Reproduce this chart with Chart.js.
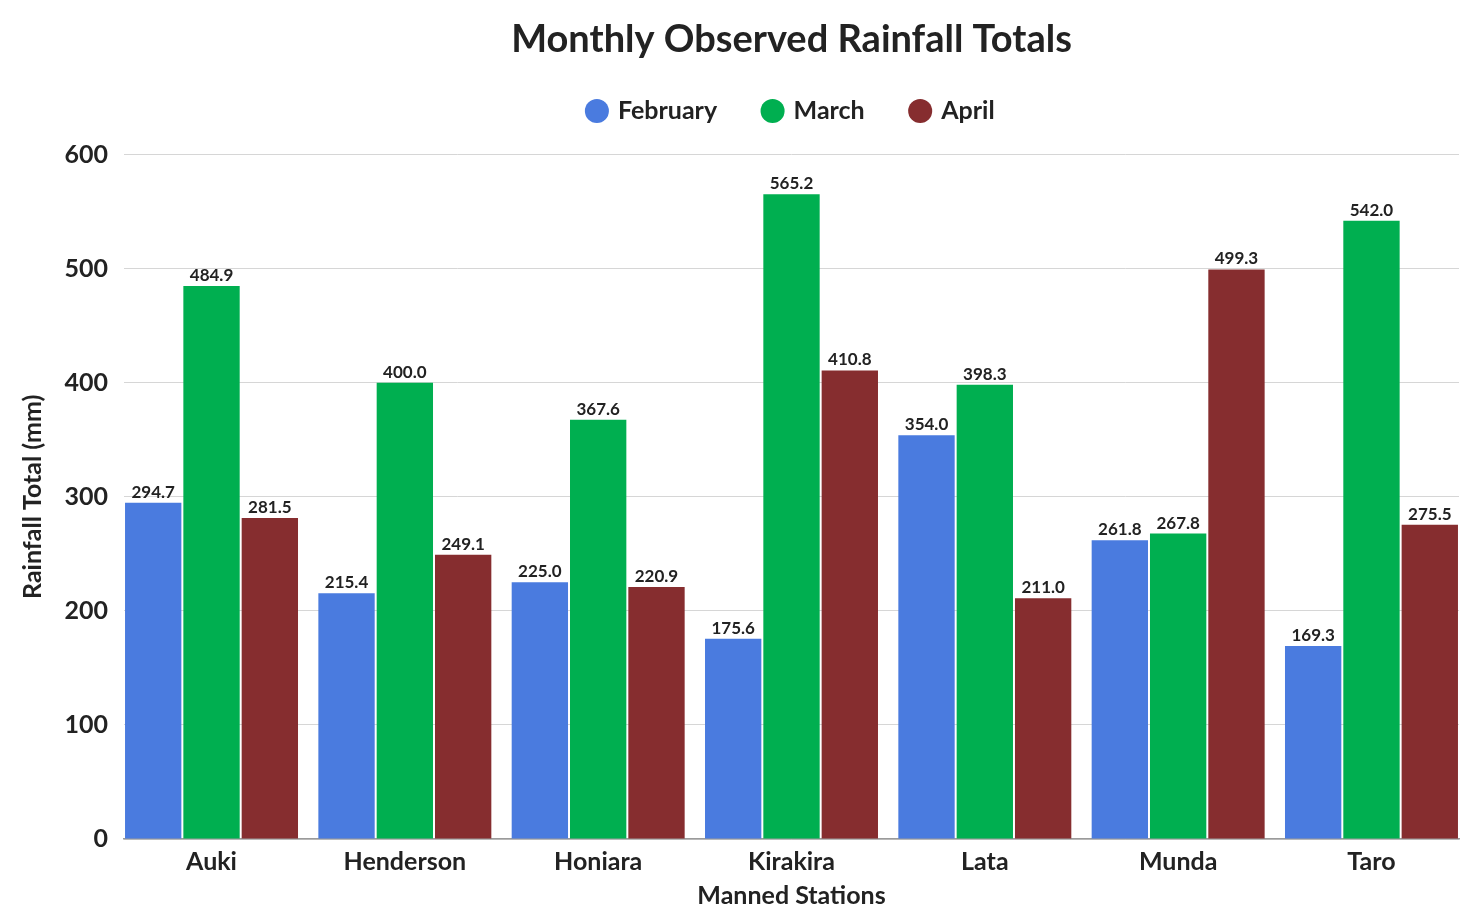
<!DOCTYPE html>
<html>
<head>
<meta charset="utf-8">
<script src="https://cdn.jsdelivr.net/npm/chart.js@4"></script>
<style>
  html, body { margin: 0; padding: 0; background: #ffffff; }
  #wrap { width: 1478px; height: 907px; }
</style>
</head>
<body>
<div id="wrap"><canvas id="c" width="1478" height="907"></canvas></div>
<script>
const categories = ["Auki", "Henderson", "Honiara", "Kirakira", "Lata", "Munda", "Taro"];
const february = [294.7, 215.4, 225.0, 175.6, 354.0, 261.8, 169.3];
const march = [484.9, 400.0, 367.6, 565.2, 398.3, 267.8, 542.0];
const april = [281.5, 249.1, 220.9, 410.8, 211.0, 499.3, 275.5];
const yTicks = [0, 100, 200, 300, 400, 500, 600];

const FONT = "Lato, 'Noto Sans', sans-serif";
const TEXT = "#222222";

function pts(arr) { return arr.map((v, i) => ({ x: i, y: v })); }

const valueLabels = {
  id: 'valueLabels',
  afterDatasetsDraw(chart) {
    const ctx = chart.ctx;
    ctx.save();
    ctx.font = "bold 17px " + FONT;
    ctx.fillStyle = TEXT;
    ctx.textAlign = 'center';
    ctx.textBaseline = 'bottom';
    chart.data.datasets.forEach((ds, di) => {
      const meta = chart.getDatasetMeta(di);
      meta.data.forEach((bar, i) => {
        ctx.fillText(ds.data[i].y.toFixed(1), bar.x, bar.y - 2);
      });
    });
    ctx.restore();
  }
};

const legendSize = {
  id: 'legendSize',
  afterInit(chart) {
    const lg = chart.legend;
    if (lg) {
      const f = lg.fit;
      lg.fit = function () { f.call(this); this.height = 103; };
    }
  }
};

new Chart(document.getElementById('c'), {
  type: 'bar',
  data: {
    datasets: [
      { label: 'February', data: pts(february), backgroundColor: '#4a7bdf' },
      { label: 'March', data: pts(march), backgroundColor: '#00af50' },
      { label: 'April', data: pts(april), backgroundColor: '#862d2f' }
    ]
  },
  plugins: [valueLabels, legendSize],
  options: {
    responsive: false,
    animation: false,
    devicePixelRatio: 1,
    layout: { padding: { left: 16, right: 19, top: 0, bottom: 0 } },
    datasets: { bar: { categoryPercentage: 0.905, barPercentage: 0.966 } },
    plugins: {
      tooltip: { enabled: false },
      title: {
        display: true,
        text: 'Monthly Observed Rainfall Totals',
        fullSize: false,
        color: TEXT,
        font: { family: FONT, size: 38, weight: 'bold', lineHeight: 1.2 },
        padding: { top: 17, bottom: -11 }
      },
      legend: {
        display: true,
        fullSize: false,
        labels: {
          usePointStyle: true,
          pointStyle: 'circle',
          boxHeight: 17,
          boxWidth: 17,
          padding: 47,
          color: TEXT,
          font: { family: FONT, size: 25, weight: 'bold' }
        }
      }
    },
    scales: {
      x: {
        type: 'linear',
        min: -0.4527,
        max: 6.4527,
        offset: false,
        afterFit(s) { s.height = 68; },
        grid: { display: false, drawTicks: false },
        border: { display: true, color: '#9a9a9a', width: 1.5 },
        afterBuildTicks(s) { s.ticks = categories.map((c, i) => ({ value: i })); },
        ticks: {
          padding: 8,
          color: TEXT,
          autoSkip: false,
          maxRotation: 0,
          font: { family: FONT, size: 25, weight: 'bold' },
          callback: (v) => categories[v]
        },
        title: {
          display: true,
          text: 'Manned Stations',
          color: TEXT,
          padding: { top: 0, bottom: -1 },
          font: { family: FONT, size: 25, weight: 'bold', lineHeight: 1.0 }
        }
      },
      y: {
        min: 0,
        max: 600,
        afterFit(s) { s.width = 108; },
        afterBuildTicks(s) { s.ticks = yTicks.map(v => ({ value: v })); },
        grid: { color: '#d6d6d6', lineWidth: 1, drawTicks: false },
        border: { display: false },
        ticks: {
          padding: 16,
          color: TEXT,
          font: { family: FONT, size: 25, weight: 'bold' }
        },
        title: {
          display: true,
          text: 'Rainfall Total (mm)',
          color: TEXT,
          padding: { top: 4, bottom: 0 },
          font: { family: FONT, size: 25, weight: 'bold', lineHeight: 1.0 }
        }
      }
    }
  }
});
</script>
</body>
</html>
